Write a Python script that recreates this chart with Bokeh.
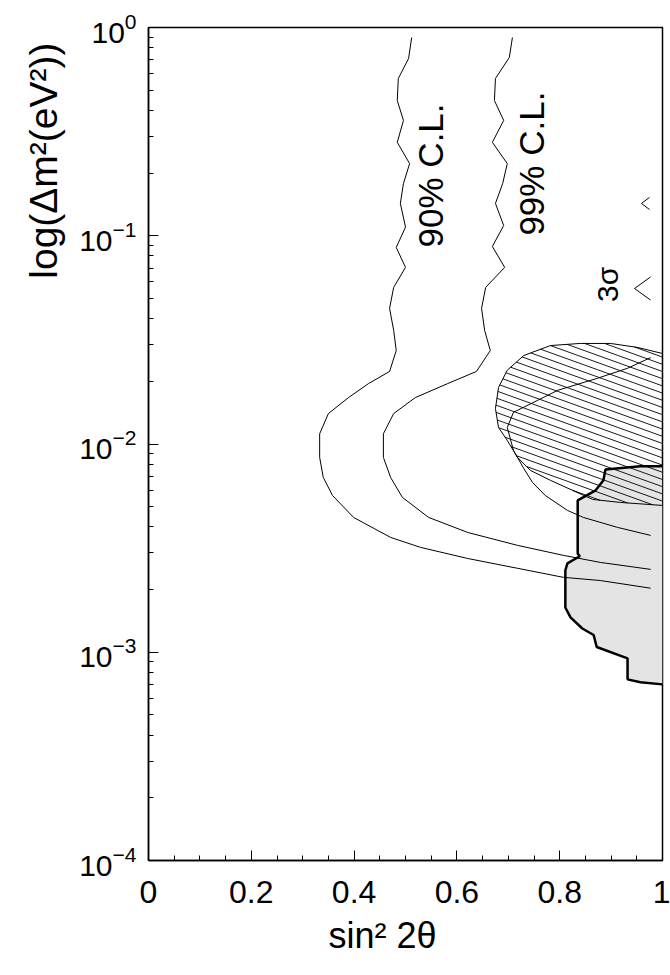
import numpy as np
from bokeh.plotting import figure
from bokeh.models import FixedTicker, Title
from bokeh.core.properties import value
from bokeh.embed import file_html
from bokeh.resources import INLINE

# ---------------- data ----------------
x_ticks = [0, 0.2, 0.4, 0.6, 0.8, 1.0]
x_tick_labels = ["0", "0.2", "0.4", "0.6", "0.8", "1"]
x_minor_ticks = [0.05, 0.1, 0.15, 0.25, 0.3, 0.35, 0.45, 0.5, 0.55, 0.65, 0.7, 0.75,
                 0.85, 0.9, 0.95]

# 90% C.L. contour
cl90_x = [0.512, 0.506, 0.486, 0.484, 0.496, 0.484, 0.508, 0.496, 0.490, 0.500, 0.482,
          0.500, 0.477, 0.469, 0.477, 0.482, 0.469, 0.428, 0.389, 0.350, 0.333, 0.333,
          0.340, 0.358, 0.399, 0.471, 0.529, 0.621, 0.718, 0.807, 0.879, 0.977]
cl90_y = [0.895, 0.710, 0.569, 0.446, 0.358, 0.281, 0.222, 0.178, 0.143, 0.110, 0.0879,
          0.0705, 0.0565, 0.0448, 0.0351, 0.0281, 0.0223, 0.0195, 0.0167, 0.0140, 0.0112,
          0.00862, 0.00691, 0.00566, 0.00444, 0.00356, 0.00319, 0.00282, 0.00253,
          0.00229, 0.00221, 0.00203]

# 99% C.L. contour
cl99_x = [0.708, 0.702, 0.675, 0.673, 0.691, 0.669, 0.698, 0.689, 0.675, 0.691, 0.669,
          0.693, 0.656, 0.648, 0.654, 0.665, 0.638, 0.582, 0.519, 0.477, 0.457, 0.457,
          0.471, 0.494, 0.545, 0.621, 0.718, 0.807, 0.879, 0.977]
cl99_y = [0.895, 0.718, 0.569, 0.446, 0.358, 0.281, 0.222, 0.178, 0.143, 0.112, 0.0888,
          0.0705, 0.0565, 0.0448, 0.0351, 0.0281, 0.0223, 0.0195, 0.0167, 0.0140, 0.0112,
          0.00862, 0.00691, 0.00554, 0.00444, 0.00376, 0.00326, 0.00292, 0.00270, 0.00250]

# inner contour running through the hatched region
inner_x = [0.977, 0.932, 0.874, 0.796, 0.757, 0.710, 0.698, 0.710, 0.730, 0.747, 0.772,
           0.815, 0.846, 0.912, 0.977]
inner_y = [0.0260, 0.0231, 0.0207, 0.0181, 0.0162, 0.0142, 0.0120, 0.00932, 0.00764,
           0.00654, 0.00566, 0.00480, 0.00444, 0.00398, 0.00364]

# hatched allowed region
hatch_x = [1.0, 0.951, 0.899, 0.840, 0.782, 0.730, 0.698, 0.681, 0.675, 0.681, 0.698,
           0.718, 0.743, 0.782, 0.825, 0.864, 0.918, 1.0]
hatch_y = [0.0272, 0.0291, 0.0304, 0.0304, 0.0297, 0.0266, 0.0226, 0.0187, 0.0148,
           0.0120, 0.0104, 0.00862, 0.00747, 0.00669, 0.00599, 0.00542, 0.00524, 0.00507]

# grey shaded region
grey_x = [1.0, 0.957, 0.889, 0.885, 0.870, 0.835, 0.835, 0.839, 0.815, 0.811, 0.811,
          0.821, 0.844, 0.866, 0.872, 0.932, 0.932, 0.957, 1.0]
grey_y = [0.00781, 0.00781, 0.00755, 0.00669, 0.00599, 0.00536, 0.00298, 0.00289,
          0.00267, 0.00247, 0.00164, 0.00147, 0.00130, 0.00121, 0.00106, 0.000935,
          0.000741, 0.000717, 0.000701]

# "<" limit marks (tip positions)
mark_x = [0.959, 0.9455]
mark_y = [0.1429, 0.0558]

# labels
cl_text = ["90% C.L.", "99% C.L."]
cl_x = [0.549, 0.745]
cl_y = [0.1948, 0.222]
sigma_text = ["3σ"]
sigma_x = [0.893]
sigma_y = [0.0584]
x_title = "sin² 2θ"
y_title = "log(Δm²(eV²))"

# ---------------- figure ----------------
FONT = "Liberation Sans"
W, H = 670, 975
ML, MR, MT, MB = 148, 8, 27, 115
SX = W - ML - MR                # pixels per unit x
SY = (H - MT - MB) / 4.0        # pixels per decade
MARK_HALF = [6, 11.5]           # pixel half-height of the "<" marks
MARK_LEN = [8, 16]              # pixel length of the "<" marks

p = figure(width=W, height=H, x_range=(0, 1), y_range=(1e-4, 1), y_axis_type="log",
           output_backend="svg", toolbar_location=None,
           min_border_left=ML, min_border_right=MR, min_border_top=MT, min_border_bottom=MB)
p.xgrid.visible = False
p.ygrid.visible = False
p.outline_line_color = "black"
p.outline_line_width = 1.5
p.background_fill_color = "white"
p.border_fill_color = "white"

xa = p.xaxis[0]
xa.ticker = FixedTicker(ticks=x_ticks, minor_ticks=x_minor_ticks)
xa.major_label_overrides = {t: l for t, l in zip(x_ticks, x_tick_labels)}
ya = p.yaxis[0]
for ax in (xa, ya):
    ax.major_tick_in = 10
    ax.major_tick_out = 0
    ax.minor_tick_in = 5
    ax.minor_tick_out = 0
    ax.axis_line_width = 1.5
    ax.major_tick_line_width = 1
    ax.minor_tick_line_width = 1
    ax.major_label_text_font = FONT
    ax.major_label_text_color = "black"

xa.major_label_text_font_size = "32px"
xa.major_label_standoff = 20
ya.major_label_text_font_size = "30px"
ya.major_label_standoff = 12

# axis titles as side-panel titles (allows alignment/offset along the axis)
p.add_layout(Title(text=y_title, align="right", offset=15, standoff=24,
                   text_font=FONT, text_font_size="39px", text_font_style="normal",
                   text_color="black"), "left")
p.add_layout(Title(text=x_title, align="left", offset=180, standoff=14,
                   text_font=FONT, text_font_size="36px", text_font_style="normal",
                   text_color="black"), "below")

# grey region fill
p.patch(grey_x, grey_y, fill_color="#e4e4e4", line_color=None)


# hatch lines, clipped to the hatched polygon (in screen-like units)
def hatch_segments(xs, ys, slope=0.36, spacing=7.2):
    u = np.asarray(xs) * SX
    v = -np.log10(np.asarray(ys)) * SY
    c_all = v - slope * u
    segx, segy = [], []
    n = len(u)
    for c in np.arange(c_all.min() + spacing / 2, c_all.max(), spacing):
        pts = []
        for i in range(n):
            j = (i + 1) % n
            f1 = v[i] - slope * u[i] - c
            f2 = v[j] - slope * u[j] - c
            if (f1 < 0) != (f2 < 0):
                t = f1 / (f1 - f2)
                pts.append(u[i] + t * (u[j] - u[i]))
        pts.sort()
        for k in range(0, len(pts) - 1, 2):
            ua, ub = pts[k], pts[k + 1]
            segx.append([ua / SX, ub / SX])
            segy.append([10 ** (-(slope * ua + c) / SY), 10 ** (-(slope * ub + c) / SY)])
    return segx, segy


hx, hy = hatch_segments(hatch_x, hatch_y)
p.multi_line(hx, hy, line_color="black", line_width=0.9)
p.patch(hatch_x, hatch_y, fill_color=None, line_color="black", line_width=1)

# contours
p.line(cl90_x, cl90_y, line_color="black", line_width=1)
p.line(cl99_x, cl99_y, line_color="black", line_width=1)
p.line(inner_x, inner_y, line_color="black", line_width=1)

# grey region border
p.line(grey_x, grey_y, line_color="black", line_width=2.5)

# "<" marks
mx, my = [], []
for x0, y0, hh, ll in zip(mark_x, mark_y, MARK_HALF, MARK_LEN):
    x1 = x0 + ll / SX
    mx.append([x1, x0, x1])
    my.append([y0 * 10 ** (hh / SY), y0, y0 * 10 ** (-hh / SY)])
p.multi_line(mx, my, line_color="black", line_width=1)

# text labels
p.text(x=cl_x, y=cl_y, text=cl_text, angle=np.pi / 2, text_align="center",
       text_baseline="middle", text_font=value(FONT), text_font_size="35px",
       text_color="black")
p.text(x=sigma_x, y=sigma_y, text=sigma_text, angle=np.pi / 2, text_align="center",
       text_baseline="middle", text_font=value(FONT), text_font_size="30px",
       text_color="black")

open("out.html", "w").write(file_html(p, INLINE))
